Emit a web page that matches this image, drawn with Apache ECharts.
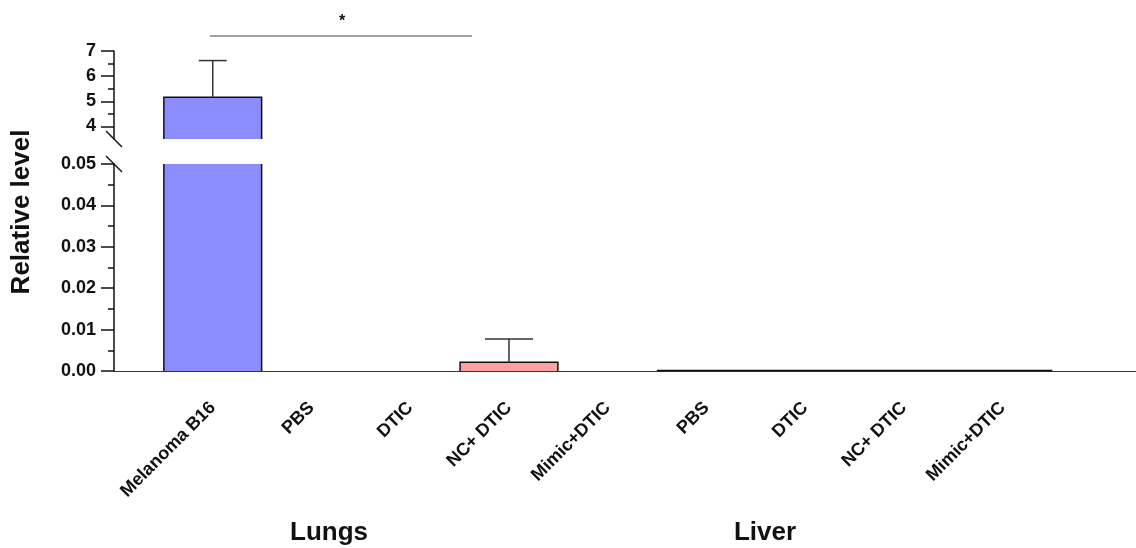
<!DOCTYPE html>
<html>
<head>
<meta charset="utf-8">
<script src="https://cdn.jsdelivr.net/npm/echarts@6/dist/echarts.min.js"></script>
<style>
  html, body { margin: 0; padding: 0; background: #fff; }
  #chart { width: 1136px; height: 548px; }
</style>
</head>
<body>
<div id="chart"></div>
<script>
// data
const categories = ["Melanoma B16", "PBS", "DTIC", "NC+ DTIC", "Mimic+DTIC", "PBS", "DTIC", "NC+ DTIC", "Mimic+DTIC"];
const means = [5.16, 0, 0, 0.0021, 0, 0.0001, 0.0001, 0.0001, 0.0001];
const errors = [1.46, 0, 0, 0.0056, 0, 0, 0, 0, 0];
const upperTicks = [4, 5, 6, 7];
const upperMinorTicks = [4.5, 5.5, 6.5];
const groupNames = ["Lungs", "Liver"];

// styles
const barColors = ["#8c8cff", "#fff", "#fff", "#ff9f9f", "#fff", "#fff", "#fff", "#fff", "#fff"];
const capWidths = [28, 0, 0, 48, 0, 0, 0, 0, 0];
const FONT = "Liberation Sans, Arial, sans-serif";
const LEFT = 114;
const UP_TOP = 51, UP_H = 88;
const LO_TOP = 164, LO_H = 207;

const chart = echarts.init(document.getElementById("chart"));

const seriesData = categories.map((c, i) => [i, means[i], errors[i]]);

function renderBar(params, api) {
  const i = api.value(0);
  const v = api.value(1);
  const e = api.value(2);
  if (!v) return null;
  const cs = params.coordSys;
  const w = api.size([1, 0])[0] * 0.99;
  const cx = api.coord([i, 0])[0];
  const yTop = api.coord([i, v])[1];
  const yBase = api.coord([i, 0])[1];
  const top = Math.max(yTop, cs.y);
  const bottom = Math.min(yBase, cs.y + cs.height);
  if (bottom <= top) return null;
  const l = cx - w / 2, r = cx + w / 2;
  const stroke = { stroke: "#111", lineWidth: 1.5, fill: null };
  const children = [
    { type: "rect", shape: { x: l, y: top, width: w, height: bottom - top }, style: { fill: barColors[i] } }
  ];
  if (yTop >= cs.y) {
    children.push({ type: "polyline", shape: { points: [[l, bottom], [l, top], [r, top], [r, bottom]] }, style: stroke });
    if (e > 0) {
      const yErr = api.coord([i, v + e])[1];
      const half = capWidths[i] / 2;
      children.push({ type: "line", shape: { x1: cx, y1: yTop, x2: cx, y2: yErr }, style: { stroke: "#333", lineWidth: 1.5 } });
      children.push({ type: "line", shape: { x1: cx - half, y1: yErr, x2: cx + half, y2: yErr }, style: { stroke: "#333", lineWidth: 1.5 } });
    }
  } else {
    children.push({ type: "line", shape: { x1: l, y1: bottom, x2: l, y2: top }, style: stroke });
    children.push({ type: "line", shape: { x1: r, y1: bottom, x2: r, y2: top }, style: stroke });
  }
  return { type: "group", children };
}

const axisText = { color: "#111", fontFamily: FONT, fontWeight: "bold", fontSize: 18 };
const blackLine = { color: "#111", width: 1.5 };

chart.setOption({
  animation: false,
  grid: [
    { left: LEFT, right: 0, top: UP_TOP, height: UP_H },
    { left: LEFT, right: 0, top: LO_TOP, height: LO_H }
  ],
  xAxis: [
    { type: "value", gridIndex: 0, min: -1, max: 9.35, show: false },
    {
      type: "value", gridIndex: 1, min: -1, max: 9.35,
      axisLine: { show: true, lineStyle: { color: "#333", width: 1.2 } },
      axisTick: { show: false },
      splitLine: { show: false },
      axisLabel: {
        customValues: categories.map((c, i) => i),
        formatter: (v) => categories[v] || "",
        rotate: 45,
        margin: 34,
        ...axisText
      }
    }
  ],
  yAxis: [
    {
      type: "value", gridIndex: 0, position: "left", min: 3.5, max: 7,
      axisLine: { show: true, onZero: false, lineStyle: blackLine },
      axisTick: { show: true, customValues: upperTicks, length: 13, lineStyle: blackLine },
      axisLabel: { customValues: upperTicks, margin: 18, ...axisText },
      splitLine: { show: false }
    },
    {
      type: "value", gridIndex: 0, position: "left", min: 3.5, max: 7,
      axisLine: { show: false, onZero: false },
      axisTick: { show: true, customValues: upperMinorTicks, length: 6, lineStyle: blackLine },
      axisLabel: { show: false },
      splitLine: { show: false }
    },
    {
      type: "value", gridIndex: 1, position: "left", min: 0, max: 0.05, interval: 0.01,
      axisLine: { show: true, onZero: false, lineStyle: blackLine },
      axisTick: { show: true, length: 13, lineStyle: blackLine },
      minorTick: { show: true, splitNumber: 2, length: 6, lineStyle: blackLine },
      axisLabel: { margin: 18, formatter: (v) => v.toFixed(2), ...axisText },
      splitLine: { show: false }
    }
  ],
  series: [
    { type: "custom", xAxisIndex: 0, yAxisIndex: 0, data: seriesData, encode: { x: 0, y: 1 }, renderItem: renderBar },
    { type: "custom", xAxisIndex: 1, yAxisIndex: 2, data: seriesData, encode: { x: 0, y: 1 }, renderItem: renderBar }
  ],
  graphic: [
    // axis break marks
    { type: "line", shape: { x1: LEFT - 8, y1: UP_TOP + UP_H - 8, x2: LEFT + 8, y2: UP_TOP + UP_H + 8 }, style: { stroke: "#111", lineWidth: 1.5 } },
    { type: "line", shape: { x1: LEFT - 8, y1: LO_TOP - 8, x2: LEFT + 8, y2: LO_TOP + 8 }, style: { stroke: "#111", lineWidth: 1.5 } },
    // significance bracket
    { type: "line", shape: { x1: 210, y1: 36, x2: 472, y2: 36 }, style: { stroke: "#444", lineWidth: 1 } },
    { type: "text", x: 342, y: 22, style: { text: "*", fontSize: 16, fontWeight: "bold", fontFamily: FONT, fill: "#111", align: "center", verticalAlign: "middle" } },
    // axis title
    { type: "text", x: 22, y: 212, rotation: Math.PI / 2, style: { text: "Relative level", fontSize: 26, fontWeight: "bold", fontFamily: FONT, fill: "#111", align: "center", verticalAlign: "middle" } },
    // group labels
    { type: "text", x: 329, y: 533, style: { text: groupNames[0], fontSize: 26, fontWeight: "bold", fontFamily: FONT, fill: "#111", align: "center", verticalAlign: "middle" } },
    { type: "text", x: 765, y: 533, style: { text: groupNames[1], fontSize: 26, fontWeight: "bold", fontFamily: FONT, fill: "#111", align: "center", verticalAlign: "middle" } }
  ]
});
</script>
</body>
</html>
